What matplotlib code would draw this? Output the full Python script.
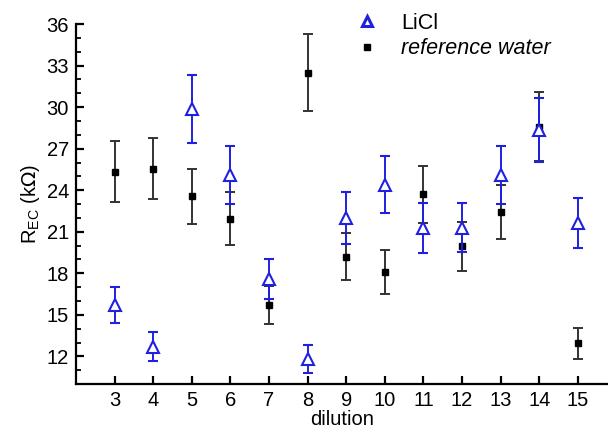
import matplotlib
matplotlib.use("Agg")
import matplotlib.pyplot as plt
import numpy as np
from matplotlib.ticker import MultipleLocator
from matplotlib.lines import Line2D

plt.rcParams['font.family'] = ['Liberation Sans', 'DejaVu Sans']

dilution = [3, 4, 5, 6, 7, 8, 9, 10, 11, 12, 13, 14, 15]

licl = [15.7, 12.7, 29.85, 25.1, 17.6, 11.8, 22.0, 24.4, 21.3, 21.3, 25.1, 28.35, 21.65]
licl_err = [1.3, 1.05, 2.45, 2.1, 1.45, 1.0, 1.85, 2.05, 1.8, 1.75, 2.1, 2.3, 1.8]

water = [25.35, 25.55, 23.55, 21.95, 15.7, 32.5, 19.2, 18.1, 23.7, 19.95, 22.45, 28.6, 12.95]
water_err = [2.2, 2.2, 2.0, 1.9, 1.35, 2.8, 1.7, 1.6, 2.05, 1.75, 1.95, 2.5, 1.1]

fig = plt.figure(figsize=(6.08, 4.37), dpi=100)
ax = fig.add_axes([0.125, 0.121, 0.875, 0.824])

blue = '#2020e0'
ax.errorbar(dilution, licl, yerr=licl_err, fmt='^', color=blue, mfc='white',
            mec=blue, mew=1.5, ms=8, ecolor=blue, elinewidth=1.4, capsize=3.5,
            capthick=1.4, zorder=3)
ax.errorbar(dilution, water, yerr=water_err, fmt='s', color='black', ms=5,
            ecolor='#333333', elinewidth=1.4, capsize=3.5, capthick=1.4,
            zorder=2)

ax.set_xlim(2, 15.78)
ax.set_ylim(10, 36)
ax.set_xticks(dilution)
ax.set_yticks([12, 15, 18, 21, 24, 27, 30, 33, 36])
ax.yaxis.set_minor_locator(MultipleLocator(1))

for s in ['top', 'right']:
    ax.spines[s].set_visible(False)
for s in ['left', 'bottom']:
    ax.spines[s].set_linewidth(1.6)

ax.tick_params(which='major', direction='in', length=6, width=1.6,
               labelsize=14.5, pad=5)
ax.tick_params(which='minor', direction='in', length=3.5, width=1.3)

ax.set_xlabel('dilution', fontsize=14.5, labelpad=0)
ax.set_ylabel(r'R$_{\mathregular{EC}}$ (k$\Omega$)', fontsize=14.5, labelpad=3)

handles = [
    Line2D([], [], ls='none', marker='^', ms=7, mfc='white', mec=blue, mew=2.2),
    Line2D([], [], ls='none', marker='s', ms=5, color='black'),
]
leg = ax.legend(handles, ['LiCl', 'reference water'], loc='upper left',
                bbox_to_anchor=(0.49, 1.085), frameon=False, fontsize=15.5,
                handlelength=1.0, handletextpad=1.1, labelspacing=0.2)
leg.get_texts()[1].set_style('italic')

fig.savefig('out.png', dpi=100)
